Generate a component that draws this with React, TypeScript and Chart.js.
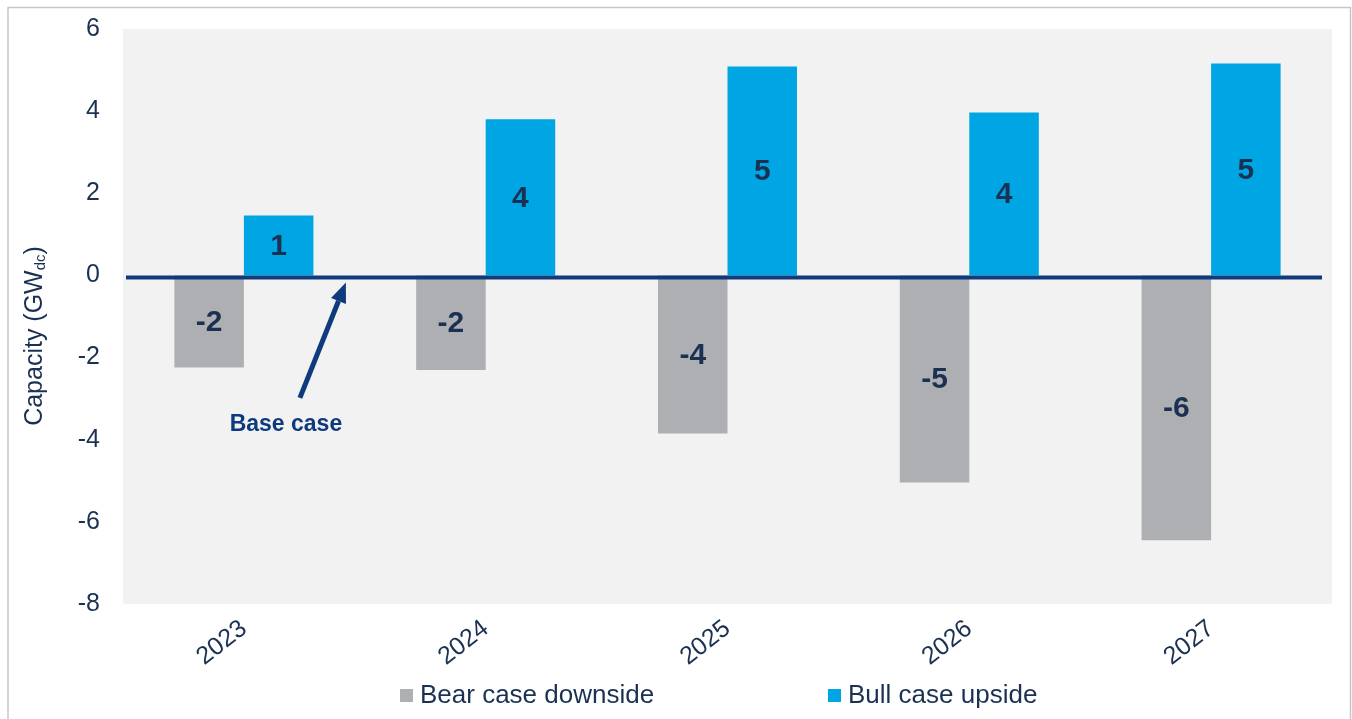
import React, { useEffect, useRef } from "react";
import { Chart, registerables } from "chart.js";

Chart.register(...registerables);

const categories = ["2023", "2024", "2025", "2026", "2027"];
const bearValues = [-2.24, -2.3, -3.85, -5.04, -6.45];
const bullValues = [1.46, 3.8, 5.09, 3.97, 5.16];
const seriesNames = ["Bear case downside", "Bull case upside"];
const yMin = -8;
const yMax = 6;
const yStep = 2;
const annotationText = "Base case";
const axisTitleMain = "Capacity (GW";
const axisTitleSub = "dc";
const axisTitleEnd = ")";

const FONT = "'Liberation Sans', Arial, sans-serif";
const TEXT = "#1b3152";
const NAVY = "#0f3b7d";
const BULL = "#00a6e3";
const BEAR = "#aeafb2";

const decorPlugin = {
  id: "decor",
  beforeDraw(chart: any) {
    const { ctx, chartArea } = chart;
    ctx.save();
    ctx.fillStyle = "#ffffff";
    ctx.fillRect(0, 0, chart.width, chart.height);
    ctx.strokeStyle = "#c6c6c6";
    ctx.lineWidth = 1.5;
    ctx.strokeRect(8, 7.5, 1342.5, chart.height + 10);
    ctx.fillStyle = "#f2f2f2";
    ctx.fillRect(chartArea.left, chartArea.top, chartArea.right - chartArea.left, chartArea.bottom - chartArea.top);
    ctx.restore();
  },
  afterDatasetsDraw(chart: any) {
    const { ctx, chartArea } = chart;
    const x = chart.scales.x;
    const y = chart.scales.y;
    ctx.save();
    // zero line
    const y0 = y.getPixelForValue(0) + 2;
    ctx.strokeStyle = NAVY;
    ctx.lineWidth = 4;
    ctx.beginPath();
    ctx.moveTo(chartArea.left + 3, y0);
    ctx.lineTo(chartArea.right - 10, y0);
    ctx.stroke();

    // data labels
    ctx.fillStyle = TEXT;
    ctx.font = `bold 30px ${FONT}`;
    ctx.textAlign = "center";
    ctx.textBaseline = "middle";
    chart.data.datasets.forEach((ds: any, di: number) => {
      const meta = chart.getDatasetMeta(di);
      meta.data.forEach((el: any, i: number) => {
        const v = ds.data[i];
        const label = String(Math.round(v));
        ctx.fillText(label, el.x, (el.y + el.base) / 2 + 1);
      });
    });

    // annotation arrow
    const cx = x.getPixelForValue(0);
    const tipX = cx + 102;
    const tipY = y.getPixelForValue(-0.17);
    const tailX = cx + 56;
    const tailY = y.getPixelForValue(-2.98);
    const ang = Math.atan2(tipY - tailY, tipX - tailX);
    const headLen = 20;
    const headHalf = 8;
    const baseX = tipX - headLen * Math.cos(ang);
    const baseY = tipY - headLen * Math.sin(ang);
    ctx.strokeStyle = NAVY;
    ctx.fillStyle = NAVY;
    ctx.lineWidth = 5;
    ctx.beginPath();
    ctx.moveTo(tailX, tailY);
    ctx.lineTo(baseX, baseY);
    ctx.stroke();
    ctx.beginPath();
    ctx.moveTo(tipX, tipY);
    ctx.lineTo(baseX + headHalf * Math.sin(ang), baseY - headHalf * Math.cos(ang));
    ctx.lineTo(baseX - headHalf * Math.sin(ang), baseY + headHalf * Math.cos(ang));
    ctx.closePath();
    ctx.fill();

    ctx.font = `bold 23px ${FONT}`;
    ctx.fillStyle = "#0d3a7e";
    ctx.textAlign = "center";
    ctx.textBaseline = "middle";
    ctx.fillText(annotationText, cx + 42, y.getPixelForValue(-3.64));

    // y axis title with subscript
    ctx.fillStyle = TEXT;
    ctx.translate(35, 336);
    ctx.rotate(-Math.PI / 2);
    ctx.textAlign = "left";
    ctx.textBaseline = "middle";
    const mainFont = `25px ${FONT}`;
    const subFont = `15px ${FONT}`;
    ctx.font = mainFont;
    const w1 = ctx.measureText(axisTitleMain).width;
    const w3 = ctx.measureText(axisTitleEnd).width;
    ctx.font = subFont;
    const w2 = ctx.measureText(axisTitleSub).width;
    const total = w1 + w2 + w3;
    let px = -total / 2;
    ctx.font = mainFont;
    ctx.fillText(axisTitleMain, px, 0);
    px += w1;
    ctx.font = subFont;
    ctx.fillText(axisTitleSub, px, 6);
    px += w2;
    ctx.font = mainFont;
    ctx.fillText(axisTitleEnd, px, 0);
    ctx.setTransform(1, 0, 0, 1, 0, 0);

    // legend
    const ly = 696;
    const items = [
      { name: seriesNames[0], color: BEAR, x: 400 },
      { name: seriesNames[1], color: BULL, x: 828 },
    ];
    ctx.font = `26px ${FONT}`;
    ctx.textAlign = "left";
    ctx.textBaseline = "middle";
    items.forEach((it) => {
      ctx.fillStyle = it.color;
      ctx.fillRect(it.x, ly - 7, 13, 13);
      ctx.fillStyle = TEXT;
      ctx.fillText(it.name, it.x + 20, ly);
    });
    ctx.restore();
  },
};

export default function App() {
  const ref = useRef<HTMLCanvasElement | null>(null);
  useEffect(() => {
    if (!ref.current) return;
    const chart = new Chart(ref.current, {
      type: "bar",
      data: {
        labels: categories,
        datasets: [
          {
            label: seriesNames[0],
            data: bearValues,
            backgroundColor: BEAR,
            categoryPercentage: 0.575,
            barPercentage: 1.0,
          },
          {
            label: seriesNames[1],
            data: bullValues,
            backgroundColor: BULL,
            categoryPercentage: 0.575,
            barPercentage: 1.0,
          },
        ],
      },
      options: {
        animation: false,
        responsive: true,
        maintainAspectRatio: false,
        layout: { padding: { left: 0, top: 29, right: 20, bottom: 0 } },
        plugins: {
          legend: { display: false },
          tooltip: { enabled: false },
        },
        scales: {
          x: {
            grid: { display: false, drawTicks: false },
            border: { display: false },
            ticks: {
              color: TEXT,
              font: { family: FONT, size: 25 },
              minRotation: 38,
              maxRotation: 38,
              padding: 10,
            },
            afterFit(scale: any) {
              scale.height = 115;
              scale.paddingLeft = 0;
              scale.paddingRight = 0;
            },
          },
          y: {
            min: yMin,
            max: yMax,
            grid: { display: false, drawTicks: false },
            border: { display: false },
            ticks: {
              stepSize: yStep,
              color: TEXT,
              font: { family: FONT, size: 25 },
              padding: 23,
            },
            afterFit(scale: any) {
              scale.width = 123;
              scale.paddingTop = 0;
              scale.paddingBottom = 0;
            },
          },
        },
      },
      plugins: [decorPlugin],
    });
    return () => chart.destroy();
  }, []);
  return (
    <div style={{ position: "fixed", left: 0, top: 0, width: 1352, height: 719 }}>
      <canvas ref={ref} />
    </div>
  );
}
